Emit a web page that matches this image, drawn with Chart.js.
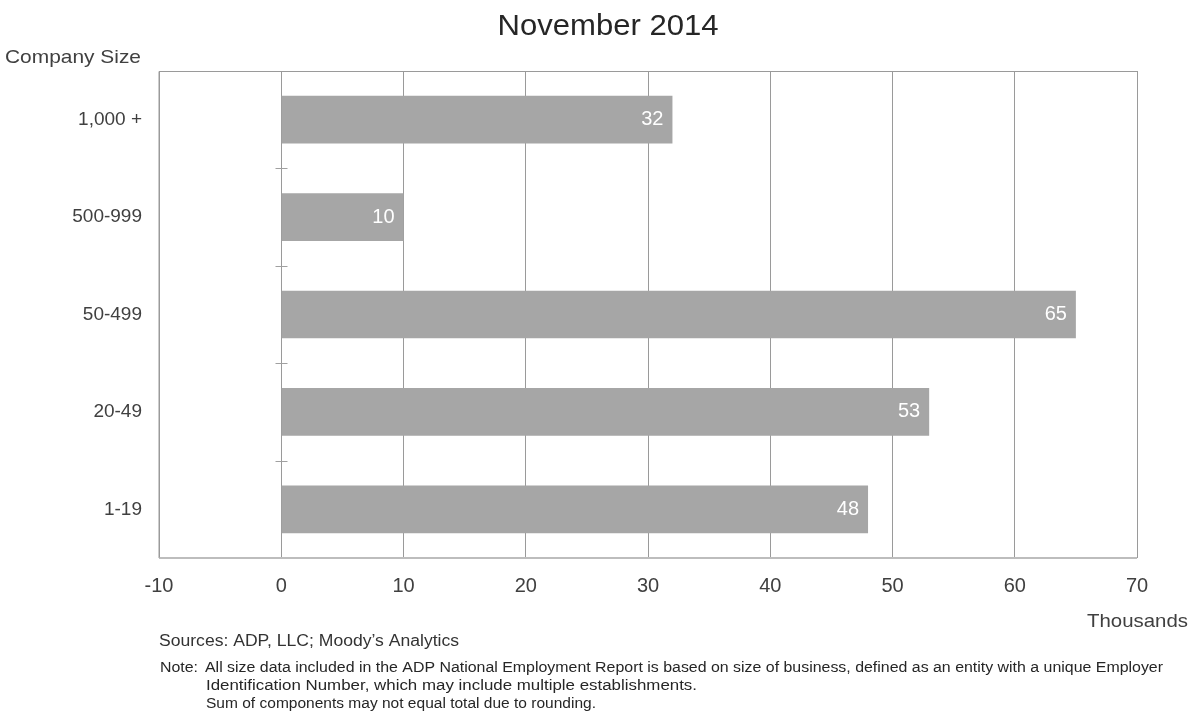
<!DOCTYPE html>
<html>
<head>
<meta charset="utf-8">
<script src="https://cdn.jsdelivr.net/npm/chart.js@4.4.1/dist/chart.umd.min.js"></script>
<style>
  html, body { margin: 0; padding: 0; background: #fff; }
  #wrap { width: 1196px; height: 713px; }
</style>
</head>
<body>
<div id="wrap"><canvas id="sizeChart" width="1196" height="713"></canvas></div>
<script>
// DATA
const sizeLabels = ["1,000 +", "500-999", "50-499", "20-49", "1-19"];
const jobGains = [32, 10, 65, 53, 48];
const xMin = -10, xMax = 70, xStep = 10;

const titleText = "November 2014";
const axisTitleY = "Company Size";
const axisTitleX = "Thousands";
const sourceText = "Sources: ADP, LLC; Moody\u2019s Analytics";
const noteLines = [
  "All size data included in the ADP National Employment Report is based on size of business, defined as an entity with a unique Employer",
  "Identification Number, which may include multiple establishments.",
  "Sum of components may not equal total due to rounding."
];

const FONT = "'Liberation Sans', Arial, sans-serif";
const NARROW = "'Liberation Sans Narrow', 'Liberation Sans', Arial, sans-serif";

// draw text stretched/squeezed to a given width
function fitText(ctx, str, x, y, px, width, family, color, align) {
  ctx.save();
  ctx.font = px + "px " + family;
  ctx.fillStyle = color;
  ctx.textBaseline = "alphabetic";
  ctx.textAlign = "left";
  const w = ctx.measureText(str).width;
  const sx = width / w;
  let left = x;
  if (align === "center") left = x - width / 2;
  if (align === "right") left = x - width;
  ctx.translate(left, y);
  ctx.scale(sx, 1);
  ctx.fillText(str, 0, 0);
  ctx.restore();
}

// frame, bottom axis line and little category ticks on the zero line
const framePlugin = {
  id: "frame",
  beforeDatasetsDraw(chart) {
    const { ctx, chartArea: a, scales } = chart;
    ctx.save();
    ctx.strokeStyle = "#bdbdbd";
    ctx.lineWidth = 2;
    ctx.beginPath();
    ctx.moveTo(a.left, a.bottom);
    ctx.lineTo(a.right, a.bottom);
    ctx.stroke();
    ctx.strokeStyle = "#9a9a9a";
    ctx.lineWidth = 1;
    ctx.beginPath();
    ctx.moveTo(a.left, a.bottom);
    ctx.lineTo(a.left, a.top + 0.5);
    ctx.lineTo(a.right, a.top + 0.5);
    ctx.stroke();
    const x0 = Math.round(scales.x.getPixelForValue(0)) + 0.5;
    ctx.strokeStyle = "#a0a0a0";
    for (let i = 1; i < sizeLabels.length; i++) {
      const y = Math.round((scales.y.getPixelForValue(i - 1) + scales.y.getPixelForValue(i)) / 2) + 0.5;
      ctx.beginPath();
      ctx.moveTo(x0 - 6, y);
      ctx.lineTo(x0 + 6, y);
      ctx.stroke();
    }
    ctx.restore();
  }
};

// value labels inside the end of each bar
const valueLabels = {
  id: "valueLabels",
  afterDatasetsDraw(chart) {
    const { ctx } = chart;
    const meta = chart.getDatasetMeta(0);
    ctx.save();
    ctx.font = "20px " + FONT;
    ctx.fillStyle = "#ffffff";
    ctx.textAlign = "right";
    ctx.textBaseline = "middle";
    meta.data.forEach((bar, i) => {
      ctx.fillText(String(jobGains[i]), bar.x - 9, bar.y);
    });
    ctx.restore();
  }
};

// titles and footnotes
const textPlugin = {
  id: "texts",
  afterDraw(chart) {
    const { ctx } = chart;
    fitText(ctx, titleText, 608, 35, 29, 221, FONT, "#262626", "center");
    fitText(ctx, axisTitleY, 5, 63, 19, 136, FONT, "#404040", "left");
    fitText(ctx, axisTitleX, 1188, 627, 19, 101, FONT, "#404040", "right");
    fitText(ctx, sourceText, 159, 646, 16, 300, FONT, "#333333", "left");
    fitText(ctx, "Note:", 160, 672, 14, 38, NARROW, "#262626", "left");
    fitText(ctx, noteLines[0], 205, 672, 14, 958, NARROW, "#262626", "left");
    fitText(ctx, noteLines[1], 206, 690, 14, 491, NARROW, "#262626", "left");
    fitText(ctx, noteLines[2], 206, 708, 14, 390, NARROW, "#262626", "left");
  }
};

new Chart(document.getElementById("sizeChart"), {
  type: "bar",
  data: {
    labels: sizeLabels,
    datasets: [{
      data: jobGains,
      backgroundColor: "#a6a6a6",
      borderWidth: 0,
      categoryPercentage: 1,
      barPercentage: 0.49
    }]
  },
  options: {
    indexAxis: "y",
    responsive: false,
    animation: false,
    devicePixelRatio: 1,
    layout: { padding: { top: 71, right: 59, left: 0, bottom: 0 } },
    plugins: {
      legend: { display: false },
      title: { display: false },
      tooltip: { enabled: false }
    },
    scales: {
      x: {
        type: "linear",
        min: xMin,
        max: xMax,
        ticks: {
          stepSize: xStep,
          padding: 16,
          color: "#404040",
          font: { family: FONT, size: 20 }
        },
        grid: { color: "#9a9a9a", drawTicks: false },
        border: { display: false },
        afterFit(scale) { scale.height = 155; }
      },
      y: {
        type: "category",
        ticks: {
          padding: 17,
          color: "#404040",
          font: { family: FONT, size: 19 }
        },
        grid: { display: false, drawTicks: false },
        border: { display: false },
        afterFit(scale) { scale.width = 159; }
      }
    }
  },
  plugins: [framePlugin, valueLabels, textPlugin]
});
</script>
</body>
</html>
